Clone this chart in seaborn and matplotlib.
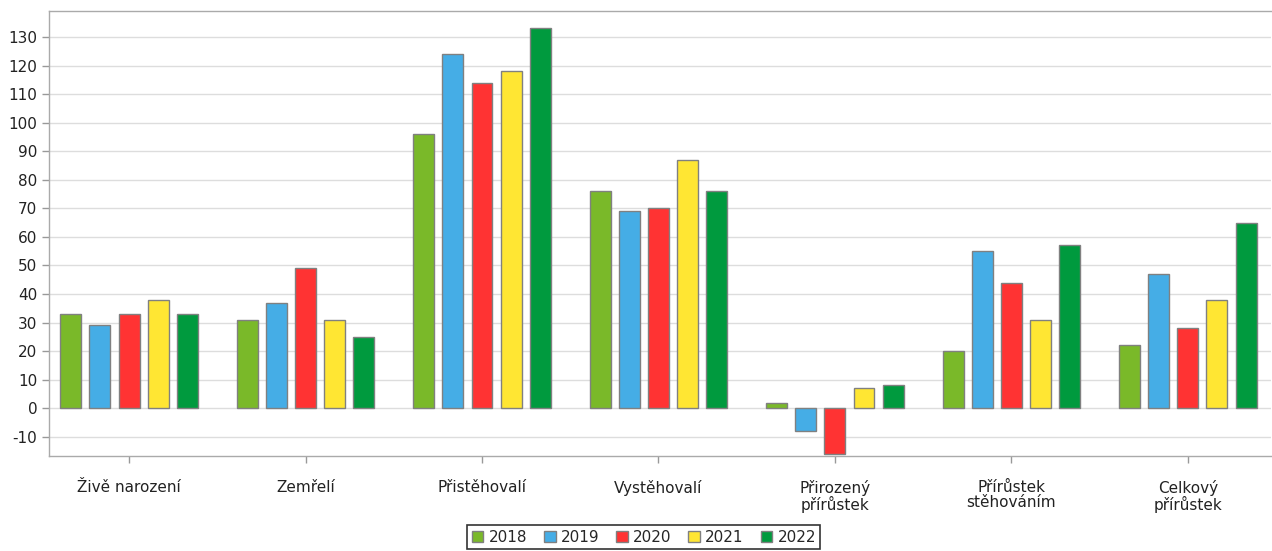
import pandas as pd
import matplotlib.pyplot as plt
import seaborn as sns

# categories and yearly values
categories = ["Živě narození", "Zemřelí", "Přistěhovalí", "Vystěhovalí",
              "Přirozený\npřírůstek", "Přírůstek\nstěhováním", "Celkový\npřírůstek"]
years = ["2018", "2019", "2020", "2021", "2022"]
v2018 = [33, 31, 96, 76, 2, 20, 22]
v2019 = [29, 37, 124, 69, -8, 55, 47]
v2020 = [33, 49, 114, 70, -16, 44, 28]
v2021 = [38, 31, 118, 87, 7, 31, 38]
v2022 = [33, 25, 133, 76, 8, 57, 65]
colors = ["#7ab929", "#45ade6", "#ff3333", "#ffe633", "#009a3e"]


def main():
    rows = []
    for year, vals in zip(years, [v2018, v2019, v2020, v2021, v2022]):
        for cat, v in zip(categories, vals):
            rows.append({"kategorie": cat, "rok": year, "hodnota": v})
    df = pd.DataFrame(rows)

    sns.set_style("white")
    plt.rcParams['font.family'] = ['DejaVu Sans']
    plt.rcParams['axes.unicode_minus'] = False

    fig, ax = plt.subplots(figsize=(12.72, 5.51), dpi=100)
    sns.barplot(data=df, x="kategorie", y="hodnota", hue="rok", palette=colors,
                order=categories, hue_order=years, width=0.825, gap=0.28,
                saturation=1, edgecolor="#808080", linewidth=1, errorbar=None,
                ax=ax, zorder=3)

    ax.set_ylim(-16.8, 139.1)
    ax.set_xlim(-0.454, 6.47)
    ax.set_yticks(range(-10, 131, 10))
    ax.yaxis.grid(True, color="#dddddd", linewidth=1, zorder=0)
    ax.set_axisbelow(True)
    ax.set_xlabel("")
    ax.set_ylabel("")
    ax.tick_params(axis="both", labelsize=11, colors="#999999", labelcolor="#222222",
                   length=5, width=1, direction="out", left=True, bottom=True)
    ax.tick_params(axis="x", pad=12)
    for lbl in ax.get_xticklabels():
        lbl.set_linespacing(1.0)
    for s in ax.spines.values():
        s.set_color("#aaaaaa")
        s.set_linewidth(1)
    ax.spines["right"].set_visible(False)

    leg = ax.legend(loc="upper center", bbox_to_anchor=(0.487, -0.155), ncol=5,
                    frameon=True, fancybox=False, fontsize=11, handlelength=0.75,
                    handleheight=0.75, handletextpad=0.35, columnspacing=1.1,
                    borderpad=0.3, borderaxespad=0)
    leg.get_frame().set_edgecolor("black")
    leg.get_frame().set_linewidth(1.2)

    plt.subplots_adjust(left=0.0385, right=0.999, top=0.98, bottom=0.172)
    plt.savefig("out.png", dpi=100)


if __name__ == "__main__":
    main()
